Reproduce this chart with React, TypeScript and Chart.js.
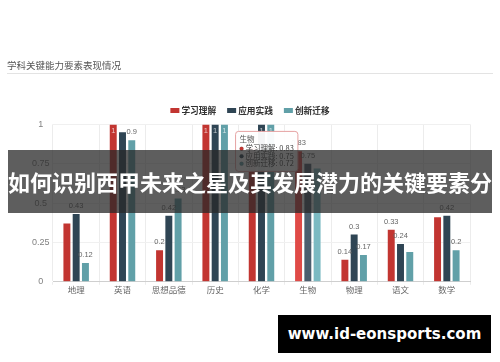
import React, { useEffect, useRef } from "react";
import { Chart, registerables, Tooltip } from "chart.js";

Chart.register(...registerables);

const categories = ["地理", "英语", "思想品德", "历史", "化学", "生物", "物理", "语文", "数学"];
const seriesNames = ["学习理解", "应用实践", "创新迁移"];
const learnValues = [0.37, 1, 0.2, 1, 0.85, 0.83, 0.14, 0.33, 0.41];
const applyValues = [0.43, 0.95, 0.42, 1, 1, 0.75, 0.3, 0.24, 0.42];
const innovateValues = [0.12, 0.9, 0.53, 1, 1, 0.72, 0.17, 0.19, 0.2];
const yTicks = [0, 0.25, 0.5, 0.75, 1];
const chartTitle = "学科关键能力要素表现情况";
const bannerText = "如何识别西甲未来之星及其发展潜力的关键要素分析";
const watermarkText = "www.id-eonsports.com";
const tooltipCategory = "生物";

const seriesColors = ["#c23531", "#2f4554", "#61a0a8"];
const hoverColors = ["#e04a47", "#4b5e6e", "#7bbac2"];
const CJK = "'Noto Sans CJK SC', sans-serif";

(Tooltip as any).positioners.fixedSpot = function (items: any[]) {
  if (!items.length) return false;
  const el = items[0].element;
  const area = (this as any).chart.chartArea;
  return { x: el.x - 60, y: area.top + 7 };
};

const separatorPlugin = {
  id: "separator",
  beforeDraw(chart: any) {
    const ctx = chart.ctx;
    ctx.save();
    ctx.fillStyle = "#ffffff";
    ctx.fillRect(0, 0, chart.width, chart.height);
    ctx.strokeStyle = "#e3e3e3";
    ctx.lineWidth = 1;
    ctx.beginPath();
    ctx.moveTo(7, 73.5);
    ctx.lineTo(493, 73.5);
    ctx.stroke();
    ctx.restore();
  },
};

const legendPlugin = {
  id: "customLegend",
  afterDraw(chart: any) {
    const ctx = chart.ctx;
    const boxW = 9;
    const boxH = 5;
    const gap = 2;
    const spacing = 11;
    const cy = 110.5;
    ctx.save();
    ctx.font = `bold 8.7px ${CJK}`;
    ctx.textBaseline = "middle";
    ctx.textAlign = "left";
    const items = chart.data.datasets.map((ds: any) => ({
      text: ds.label,
      color: ds.backgroundColor,
      w: boxW + gap + ctx.measureText(ds.label).width,
    }));
    const total = items.reduce((s: number, it: any) => s + it.w, 0) + spacing * (items.length - 1);
    let x = chart.width / 2 - total / 2;
    for (const it of items) {
      ctx.fillStyle = it.color;
      ctx.fillRect(x, cy - boxH / 2, boxW, boxH);
      ctx.fillStyle = "#333";
      ctx.fillText(it.text, x + boxW + gap, cy);
      x += it.w + spacing;
    }
    ctx.restore();
  },
};

const barLabelPlugin = {
  id: "barLabels",
  afterDatasetsDraw(chart: any) {
    const ctx = chart.ctx;
    const items: any[] = [];
    chart.data.datasets.forEach((ds: any, di: number) => {
      const meta = chart.getDatasetMeta(di);
      meta.data.forEach((bar: any, i: number) => {
        const v = ds.data[i];
        items.push({ v, text: String(v), x: bar.x, y: bar.y, inside: v >= 1 });
      });
    });
    items.sort((a, b) => b.v - a.v);
    ctx.save();
    ctx.font = "7.5px 'Liberation Sans', Arial, sans-serif";
    ctx.textAlign = "center";
    ctx.textBaseline = "middle";
    const placed: any[] = [];
    for (const it of items) {
      const w = ctx.measureText(it.text).width + 2;
      const h = 10;
      const cy = it.inside ? it.y + 7 : it.y - 3 - h / 2;
      const r = { l: it.x - w / 2, r: it.x + w / 2, t: cy - h / 2, b: cy + h / 2 };
      if (placed.some((p) => p.l < r.r && r.l < p.r && p.t < r.b && r.t < p.b)) continue;
      placed.push(r);
      ctx.fillStyle = it.inside ? "rgba(255,255,255,0.7)" : "#666";
      ctx.fillText(it.text, it.x, cy);
    }
    ctx.restore();
  },
};

export default function App() {
  const ref = useRef<HTMLCanvasElement | null>(null);

  useEffect(() => {
    if (!ref.current) return;
    const valueSets = [learnValues, applyValues, innovateValues];
    const chart = new Chart(ref.current, {
      type: "bar",
      data: {
        labels: categories,
        datasets: seriesNames.map((name, i) => ({
          label: name,
          data: valueSets[i],
          backgroundColor: seriesColors[i],
          hoverBackgroundColor: hoverColors[i],
          borderWidth: 0,
          categoryPercentage: 0.6,
          barPercentage: 0.75,
        })),
      },
      options: {
        responsive: false,
        animation: false,
        events: [],
        layout: { padding: { left: 7, right: 30, top: 0, bottom: 67 } },
        plugins: {
          title: {
            display: true,
            text: chartTitle,
            align: "start",
            color: "#555",
            font: { size: 9.5, family: CJK, weight: "normal" },
            padding: { top: 60, bottom: 53 },
          },
          legend: { display: false },
          tooltip: {
            enabled: true,
            mode: "index",
            position: "fixedSpot" as any,
            xAlign: "left",
            yAlign: "top",
            caretSize: 0,
            caretPadding: 0,
            backgroundColor: "rgba(255,255,255,0.95)",
            borderColor: "#e6a3a3",
            borderWidth: 1,
            cornerRadius: 3,
            padding: 4,
            titleColor: "#555",
            titleFont: { size: 7.5, weight: "normal", family: CJK, lineHeight: 1 },
            titleMarginBottom: 2,
            bodyColor: "#444",
            bodyFont: { size: 7.5, family: CJK, lineHeight: 1 },
            bodySpacing: 0,
            usePointStyle: true,
            boxWidth: 4,
            boxHeight: 4,
            callbacks: {
              label: (c: any) => `${c.dataset.label}: ${c.parsed.y}`,
              labelPointStyle: () => ({ pointStyle: "circle", rotation: 0 }),
            },
          },
        },
        scales: {
          x: {
            grid: {
              color: "#ececec",
              tickLength: 3,
              offset: true,
            },
            border: { color: "#cfcfcf" },
            ticks: {
              color: "#666",
              padding: 0,
              font: { size: 8.5, family: CJK },
            },
          },
          y: {
            min: 0,
            max: 1,
            afterFit: (s: any) => {
              s.width = 46;
            },
            afterBuildTicks: (s: any) => {
              s.ticks = yTicks.map((v) => ({ value: v }));
            },
            grid: { color: "#f0f0f0", drawTicks: false },
            border: { display: false },
            ticks: {
              color: "#808080",
              padding: 3.5,
              crossAlign: "center",
              font: { size: 9, family: "'Liberation Sans', Arial, sans-serif" },
              callback: (v: any) => String(v),
            },
          },
        },
      },
      plugins: [separatorPlugin, barLabelPlugin, legendPlugin],
    });

    const idx = categories.indexOf(tooltipCategory);
    const active = [0, 1, 2].map((d) => ({ datasetIndex: d, index: idx }));
    chart.setActiveElements(active);
    chart.tooltip!.setActiveElements(active, { x: 0, y: 0 });
    chart.update();

    return () => chart.destroy();
  }, []);

  return (
    <div style={{ position: "absolute", left: 0, top: 0, width: 500, height: 362, background: "#fff", overflow: "hidden" }}>
      <canvas ref={ref} width={500} height={362} style={{ width: 500, height: 362, display: "block" }} />
      <div
        style={{
          position: "absolute",
          left: 8,
          top: 150,
          width: 484,
          height: 63,
          background: "rgba(40,40,40,0.75)",
          color: "#fff",
          fontFamily: CJK,
          fontWeight: "bold",
          fontSize: 22,
          lineHeight: "63px",
          textAlign: "center",
          whiteSpace: "nowrap",
          overflow: "hidden",
        }}
      >
        {bannerText}
      </div>
      <div
        style={{
          position: "absolute",
          left: 278,
          top: 315,
          width: 213,
          height: 38,
          background: "#000",
          color: "#fff",
          fontFamily: "'DejaVu Sans', sans-serif",
          fontWeight: "bold",
          fontSize: 15,
          lineHeight: "38px",
          textAlign: "center",
          whiteSpace: "nowrap",
        }}
      >
        {watermarkText}
      </div>
    </div>
  );
}
